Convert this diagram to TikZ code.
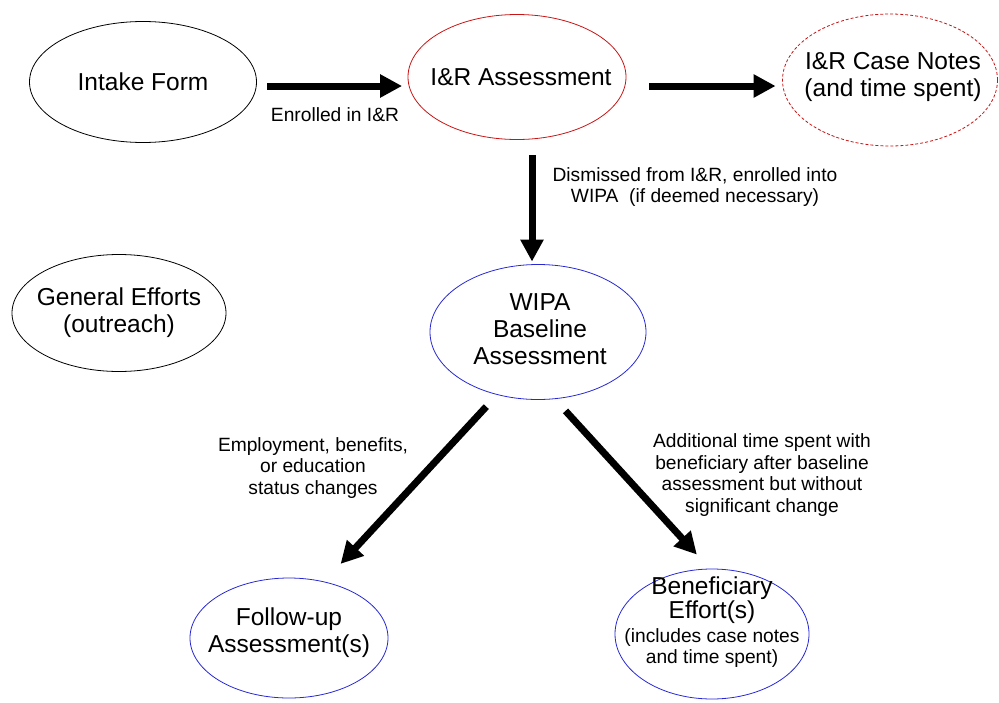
\documentclass[tikz,border=0pt]{standalone}
\usepackage{fontspec}
\setmainfont{Liberation Sans}
\usetikzlibrary{arrows.meta,shapes.geometric}
\definecolor{irred}{RGB}{200,20,20}
\definecolor{wblue}{RGB}{40,40,210}
\begin{document}
\begin{tikzpicture}[x=1pt,y=-1pt,
  oval/.style={ellipse, draw, line width=0.8pt, inner sep=0pt},
  big/.style={font=\fontsize{24.5}{27}\selectfont, align=center, inner sep=0pt},
  lab/.style={font=\fontsize{19.2}{21.5}\selectfont, align=center, inner sep=0pt},
  arr/.style={line width=7pt, -{Triangle[length=22pt,width=22pt]}},
  every label/.style={big}]
\useasboundingbox (0,0) rectangle (999,702);

\node[oval, minimum width=227pt, minimum height=121pt,
  label={center:{Intake Form}}] (intake) at (143,82) {};
\node[oval, draw=irred, minimum width=218pt, minimum height=125pt,
  label={[xshift=4pt]center:{I\&R Assessment}}] (ir) at (517,77) {};
\node[oval, draw=irred, dash pattern=on 3pt off 2pt, minimum width=215pt, minimum height=132pt,
  label={[xshift=3pt,yshift=3pt]center:{I\&R Case Notes\\(and time spent)}}] (notes) at (890,80) {};
\node[oval, minimum width=214pt, minimum height=117pt,
  label={center:{General Efforts\\(outreach)}}] (general) at (119,313) {};
\node[oval, draw=wblue, minimum width=216pt, minimum height=135pt,
  label={[xshift=2pt,yshift=3pt]center:{WIPA\\Baseline\\Assessment}}] (wipa) at (538,332) {};
\node[oval, draw=wblue, minimum width=198pt, minimum height=120pt,
  label={[yshift=5pt]center:{Follow-up\\Assessment(s)}}] (follow) at (289,638) {};
\node[oval, draw=wblue, minimum width=194pt, minimum height=130pt,
  label={[yshift=12pt]center:{Beneficiary\\[-3pt]Effort(s)\\[-3pt]{\fontsize{19.2}{21.5}\selectfont(includes case notes}\\[-6pt]{\fontsize{19.2}{21.5}\selectfont and time spent)}}}] (ben) at (712,634) {};

\draw[arr, shorten <=10.5pt, shorten >=5.5pt] ([yshift=-4pt]intake.east) -- ([yshift=-9pt]ir.west);
\draw[arr, shorten <=23pt, shorten >=6.5pt] ([yshift=-9pt]ir.east) -- ([yshift=-6pt]notes.west);
\draw[arr, shorten <=15.5pt, shorten >=2.5pt] ([xshift=15pt]ir.south) -- ([xshift=-6pt]wipa.north);
\draw[arr, shorten <=16pt, shorten >=24pt] (wipa.237) -- (follow.58.6);
\draw[arr, shorten <=16pt, shorten >=19pt] (wipa.284) -- (ben.92);

\node[lab] (l1) at (335,115) {Enrolled in I\&R};
\node[lab] (l2) at (695,187) {Dismissed from I\&R, enrolled into\\WIPA~ (if deemed necessary)};
\node[lab] (l3) at (313,468) {Employment, benefits,\\or education\\status changes};
\node[lab] (l4) at (762,475) {Additional time spent with\\beneficiary after baseline\\assessment but without\\significant change};
\end{tikzpicture}
\end{document}
